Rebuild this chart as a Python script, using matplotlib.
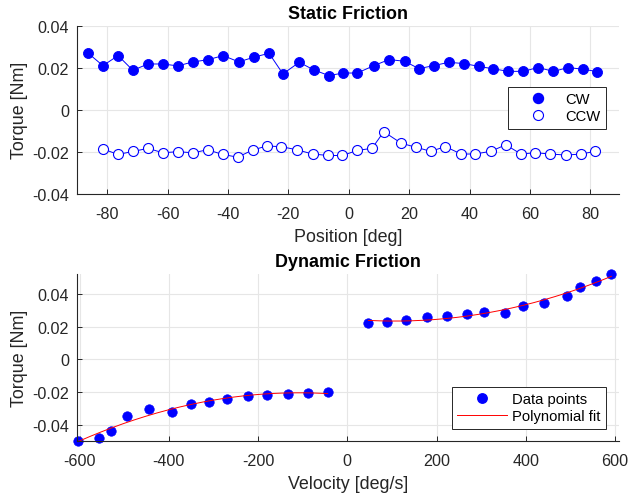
import numpy as np
import matplotlib
matplotlib.use("Agg")
import matplotlib.pyplot as plt
from matplotlib.lines import Line2D
from matplotlib.ticker import FuncFormatter

# static friction vs position
pos_cw = [-86.2, -81.4, -76.4, -71.5, -66.5, -61.6, -56.6, -51.6, -46.7, -41.6,
          -36.4, -31.5, -26.4, -21.8, -16.4, -11.6, -6.6, -1.8, 2.8, 8.3,
          13.3, 18.5, 23.2, 28.1, 33.1, 38.1, 43.0, 47.9, 52.8, 57.7,
          62.7, 67.8, 72.7, 77.6, 82.3]
tau_cw = [0.0268, 0.0210, 0.0258, 0.0188, 0.0218, 0.0218, 0.0209, 0.0228, 0.0238, 0.0258,
          0.0228, 0.0250, 0.0269, 0.0171, 0.0226, 0.0190, 0.0163, 0.0175, 0.0175, 0.0210,
          0.0239, 0.0231, 0.0196, 0.0210, 0.0226, 0.0220, 0.0207, 0.0195, 0.0183, 0.0183,
          0.0201, 0.0183, 0.0201, 0.0193, 0.0182]
pos_ccw = [-81.4, -76.4, -71.5, -66.5, -61.6, -56.6, -51.7, -46.7, -41.8, -36.8,
           -31.8, -27.2, -22.4, -17.1, -12.0, -6.8, -2.1, 2.8, 7.7, 11.6,
           17.4, 22.3, 27.1, 32.0, 37.2, 41.8, 47.1, 52.0, 57.0, 61.8,
           66.7, 72.0, 77.0, 81.7]
tau_ccw = [-0.0186, -0.0212, -0.0198, -0.0183, -0.0204, -0.0199, -0.0204, -0.0190, -0.0212, -0.0225,
           -0.0191, -0.0172, -0.0175, -0.0190, -0.0210, -0.0217, -0.0217, -0.0193, -0.0183, -0.0104,
           -0.0159, -0.0178, -0.0197, -0.0175, -0.0210, -0.0210, -0.0197, -0.0166, -0.0210, -0.0204,
           -0.0210, -0.0215, -0.0210, -0.0197]

# dynamic friction vs velocity
vel_neg = [-603.8, -557.3, -530.3, -492.9, -445.1, -392.8, -351.5, -310.4, -269.4, -223.6,
           -179.6, -133.8, -88.9, -44.0]
tau_neg = [-0.0500, -0.0481, -0.0440, -0.0349, -0.0306, -0.0322, -0.0273, -0.0261, -0.0243, -0.0226,
           -0.0218, -0.0210, -0.0204, -0.0200]
vel_pos = [47.1, 89.8, 132.4, 178.2, 223.1, 268.0, 306.8, 353.3, 392.8, 440.0,
           492.5, 522.3, 557.6, 591.9]
tau_pos = [0.0224, 0.0228, 0.0243, 0.0261, 0.0269, 0.0277, 0.0292, 0.0286, 0.0328, 0.0344,
           0.0387, 0.0445, 0.0483, 0.0524]

plt.rcParams["font.family"] = ["Liberation Sans", "DejaVu Sans"]
plt.rcParams["axes.unicode_minus"] = False

dark = "#262626"
blue = (0, 0, 1)
fmt = FuncFormatter(lambda v, p: "{:g}".format(round(v, 6)))


def style(ax):
    for s in ["top", "right"]:
        ax.spines[s].set_visible(False)
    for s in ["left", "bottom"]:
        ax.spines[s].set_color(dark)
        ax.spines[s].set_linewidth(0.8)
    ax.grid(True, color="#e6e6e6", linewidth=0.8)
    ax.set_axisbelow(True)
    ax.tick_params(direction="in", length=3.5, width=0.7, color=dark,
                   labelcolor=dark, labelsize=11.6)
    ax.tick_params(axis="y", pad=5.5)
    ax.tick_params(axis="x", pad=8.5)
    ax.yaxis.set_major_formatter(fmt)


fig = plt.figure(figsize=(6.28, 5.02), dpi=100)

ax1 = fig.add_axes([0.1226, 0.6116, 0.8631, 0.3352])
style(ax1)
ax1.plot(pos_cw, tau_cw, "-", color=blue, linewidth=0.7)
ax1.plot(pos_cw, tau_cw, "o", color=blue, markersize=7.2, markeredgewidth=0.6, clip_on=False)
ax1.plot(pos_ccw, tau_ccw, "-", color=blue, linewidth=0.7)
ax1.plot(pos_ccw, tau_ccw, "o", markerfacecolor="white", markeredgecolor=blue,
         markersize=7.2, markeredgewidth=0.8, clip_on=False)
ax1.set_xlim(-90, 89.5)
ax1.set_ylim(-0.04, 0.04)
ax1.set_xticks([-80, -60, -40, -20, 0, 20, 40, 60, 80])
ax1.set_yticks([-0.04, -0.02, 0, 0.02, 0.04])
ax1.set_title("Static Friction", fontsize=12.9, fontweight="bold", pad=5.5)
ax1.set_xlabel("Position [deg]", fontsize=12.9, color=dark, labelpad=5)
ax1.set_ylabel("Torque [Nm]", fontsize=12.9, color=dark, labelpad=3)
h1 = [Line2D([], [], linestyle="none", marker="o", color=blue, markersize=7.2),
      Line2D([], [], linestyle="none", marker="o", markerfacecolor="white",
             markeredgecolor=blue, markersize=7.2, markeredgewidth=0.8)]
leg1 = ax1.legend(h1, ["CW", "CCW"], loc="upper right",
                  bbox_to_anchor=(606 / 628, 1 - 88.3 / 502), bbox_transform=fig.transFigure,
                  borderaxespad=0, fontsize=10.6, handlelength=3.4, handletextpad=0.2,
                  borderpad=0.35, labelspacing=0.2, fancybox=False, framealpha=1,
                  edgecolor=dark)
leg1.get_frame().set_linewidth(0.7)

ax2 = fig.add_axes([0.1226, 0.1189, 0.8631, 0.3333])
style(ax2)
ax2.plot(vel_neg, tau_neg, "o", color=blue, markersize=6.8, markeredgewidth=0.5, clip_on=False)
ax2.plot(vel_pos, tau_pos, "o", color=blue, markersize=6.8, markeredgewidth=0.5, clip_on=False)
for v, t in [(vel_neg, tau_neg), (vel_pos, tau_pos)]:
    c = np.polyfit(v, t, 2)
    vv = np.linspace(min(v), max(v), 200)
    ax2.plot(vv, np.polyval(c, vv), color="red", linewidth=0.7, clip_on=False)
ax2.set_xlim(-606, 609)
ax2.set_ylim(-0.0503, 0.0525)
ax2.set_xticks([-600, -400, -200, 0, 200, 400, 600])
ax2.set_yticks([-0.04, -0.02, 0, 0.02, 0.04])
ax2.set_title("Dynamic Friction", fontsize=12.9, fontweight="bold", pad=5.5)
ax2.set_xlabel("Velocity [deg/s]", fontsize=12.9, color=dark, labelpad=5)
ax2.set_ylabel("Torque [Nm]", fontsize=12.9, color=dark, labelpad=3)
h2 = [Line2D([], [], linestyle="none", marker="o", color=blue, markersize=6.8),
      Line2D([], [], color="red", linewidth=0.7)]
leg2 = ax2.legend(h2, ["Data points", "Polynomial fit"], loc="upper right",
                  bbox_to_anchor=(606 / 628, 1 - 388.3 / 502), bbox_transform=fig.transFigure,
                  borderaxespad=0, fontsize=10.6, handlelength=3.4, handletextpad=0.35,
                  borderpad=0.35, labelspacing=0.2, fancybox=False, framealpha=1,
                  edgecolor=dark)
leg2.get_frame().set_linewidth(0.7)

fig.savefig("out.png", dpi=100)
